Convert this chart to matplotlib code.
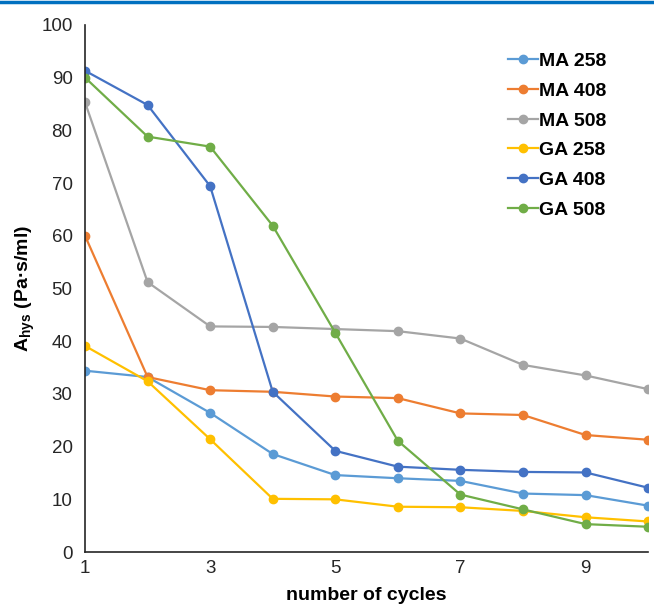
import matplotlib
matplotlib.use("Agg")
import matplotlib.pyplot as plt

plt.rcParams['font.family'] = ['Liberation Sans', 'DejaVu Sans']

cycles = [1, 2, 3, 4, 5, 6, 7, 8, 9, 10]
ma_258 = [34.4, 33.2, 26.4, 18.6, 14.6, 14.0, 13.5, 11.1, 10.8, 8.8]
ma_408 = [60.0, 33.2, 30.7, 30.4, 29.5, 29.2, 26.3, 26.0, 22.2, 21.3]
ma_508 = [85.3, 51.2, 42.8, 42.7, 42.3, 41.9, 40.5, 35.5, 33.5, 30.9]
ga_258 = [39.1, 32.4, 21.4, 10.1, 10.0, 8.6, 8.5, 7.8, 6.6, 5.8]
ga_408 = [91.3, 84.8, 69.4, 30.4, 19.2, 16.2, 15.6, 15.2, 15.1, 12.2]
ga_508 = [90.0, 78.8, 76.9, 61.9, 41.6, 21.1, 10.9, 8.1, 5.3, 4.8]

series = [
    ("MA 258", ma_258, "#5B9BD5"),
    ("MA 408", ma_408, "#ED7D31"),
    ("MA 508", ma_508, "#A5A5A5"),
    ("GA 258", ga_258, "#FFC000"),
    ("GA 408", ga_408, "#4472C4"),
    ("GA 508", ga_508, "#70AD47"),
]
x_ticks = [1, 3, 5, 7, 9]
y_ticks = list(range(0, 101, 10))

fig = plt.figure(figsize=(6.54, 6.06), dpi=100)
ax = fig.add_axes([0.130, 0.089, 0.861, 0.870])

for name, vals, col in series:
    ax.plot(cycles, vals, color=col, lw=1.6, marker='o', ms=6, label=name)

ax.set_xlim(1, 10)
ax.set_ylim(0, 100)
ax.set_xticks(x_ticks)
ax.set_yticks(y_ticks)
ax.tick_params(length=0, labelsize=13.5, colors='#262626')
ax.tick_params(axis='y', pad=9)
ax.tick_params(axis='x', pad=6)
for s in ['top', 'right']:
    ax.spines[s].set_visible(False)
for s in ['left', 'bottom']:
    ax.spines[s].set_color('#262626')
    ax.spines[s].set_linewidth(1.2)

ax.set_xlabel("number of cycles", fontsize=14, fontweight='bold', labelpad=7)
ax.set_ylabel(r"A$_\mathregular{hys}$ (Pa·s/ml)", fontsize=14, fontweight='bold', labelpad=3)

leg = ax.legend(loc='upper left', bbox_to_anchor=(0.737, 0.962), frameon=False,
                prop={'weight': 'bold', 'size': 14}, handlelength=1.55,
                handletextpad=0.05, labelspacing=0.62, borderaxespad=0)

# thin header rule along the top edge
fig.add_artist(plt.Line2D([0, 1], [0.9975, 0.9975], color='#0070C0', lw=2.5,
                          transform=fig.transFigure))

fig.savefig("out.png", dpi=100)
